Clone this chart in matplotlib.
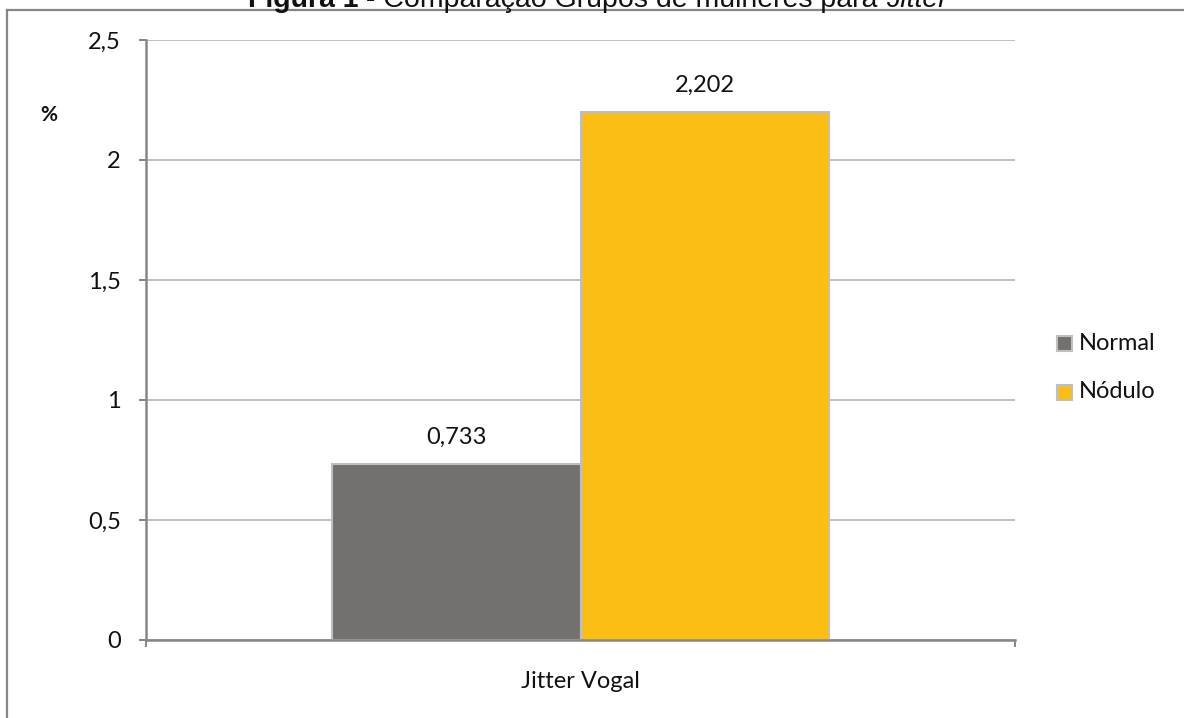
import matplotlib
matplotlib.use("Agg")
import matplotlib.pyplot as plt
from matplotlib.patches import Rectangle
from matplotlib.lines import Line2D

# Data
category = "Jitter Vogal"
series_names = ["Normal", "Nódulo"]
series_values = [0.733, 2.202]
value_labels = ["0,733", "2,202"]
series_colors = ["#72716E", "#FBBE14"]
y_ticks = [0, 0.5, 1, 1.5, 2, 2.5]
y_tick_labels = ["0", "0,5", "1", "1,5", "2", "2,5"]

W, H = 1184, 718
DPI = 100
fig = plt.figure(figsize=(W / DPI, H / DPI), dpi=DPI)
fig.patch.set_facecolor("white")

def fx(px):
    return px / W

def fy(py):
    return 1 - py / H

FONT = ["Lato", "DejaVu Sans"]
FS = 17
AXIS_GRAY = "#868686"
GRID_GRAY = "#BFBFBF"
TEXT = "#111111"

# Outer frame of the chart (continues past the right and bottom edges)
fig.add_artist(Line2D([fx(7), fx(7)], [fy(10), fy(730)], color=AXIS_GRAY, lw=1.6,
                      transform=fig.transFigure))
fig.add_artist(Line2D([fx(7), fx(1200)], [fy(10), fy(10)], color=AXIS_GRAY, lw=1.6,
                      transform=fig.transFigure))

# Caption above the frame, built from three runs (bold / regular / italic)
title_kw = dict(va="baseline", fontsize=20.5, family="Liberation Sans", color=TEXT)
t1 = fig.text(fx(248), fy(7), "Figura 1", fontweight="bold", ha="left", **title_kw)
fig.canvas.draw()
r = fig.canvas.get_renderer()
bb1 = t1.get_window_extent(r)
t2 = fig.text(bb1.x1 / W, fy(7), " - Comparação Grupos de mulheres para ", ha="left", **title_kw)
bb2 = t2.get_window_extent(r)
fig.text(bb2.x1 / W, fy(7), "Jitter", fontstyle="italic", ha="left", **title_kw)

# Plot area
left, right, top, bottom = 146, 1015, 40, 640
ax = fig.add_axes([fx(left), fy(bottom), fx(right - left), (bottom - top) / H])
ax.set_xlim(-0.5, 0.5)
ax.set_ylim(0, 2.5)

group_width = 1 / 1.75
bar_w = group_width / len(series_values)
for i, (name, val, col, lab) in enumerate(zip(series_names, series_values,
                                               series_colors, value_labels)):
    xc = -group_width / 2 + bar_w * (i + 0.5)
    ax.bar(xc, val, width=bar_w, color=col, edgecolor=GRID_GRAY, linewidth=1.5,
           label=name, zorder=3)
    ax.annotate(lab, (xc, val), xytext=(0, 14.5), textcoords="offset points",
                ha="center", va="baseline", fontsize=FS, family=FONT, color=TEXT)

ax.set_yticks(y_ticks)
ax.set_yticklabels(y_tick_labels, family=FONT, fontsize=FS, color=TEXT)
ax.yaxis.grid(True, color=GRID_GRAY, lw=1.4, zorder=0)
ax.set_axisbelow(True)
ax.tick_params(axis="y", direction="out", length=5, width=1.4, color=AXIS_GRAY, pad=13)

ax.set_xticks([-0.5, 0.5])
ax.set_xticklabels(["", ""])
ax.tick_params(axis="x", direction="out", length=5, width=1.4, color=AXIS_GRAY)
ax.text(0, -0.175, category, ha="center", va="center", fontsize=FS, family=FONT,
        color=TEXT, transform=ax.transData)

for side in ["top", "right"]:
    ax.spines[side].set_visible(False)
for side in ["left", "bottom"]:
    ax.spines[side].set_color(AXIS_GRAY)
    ax.spines[side].set_linewidth(1.8)
    ax.spines[side].set_zorder(4)

# Axis unit
fig.text(fx(49), fy(115), "%", ha="center", va="center", fontsize=15, fontweight="bold",
         family=FONT, color=TEXT)

# Legend
legend_rows = [344, 392]
for name, col, yy in zip(series_names, series_colors, legend_rows):
    fig.add_artist(Rectangle((fx(1057), fy(yy + 7.5)), fx(15), 15 / H, facecolor=col,
                             edgecolor=GRID_GRAY, lw=1.5, transform=fig.transFigure))
    fig.text(fx(1079), fy(yy), name, ha="left", va="center", fontsize=FS, family=FONT,
             color=TEXT)

fig.savefig("out.png", dpi=DPI, facecolor="white")
